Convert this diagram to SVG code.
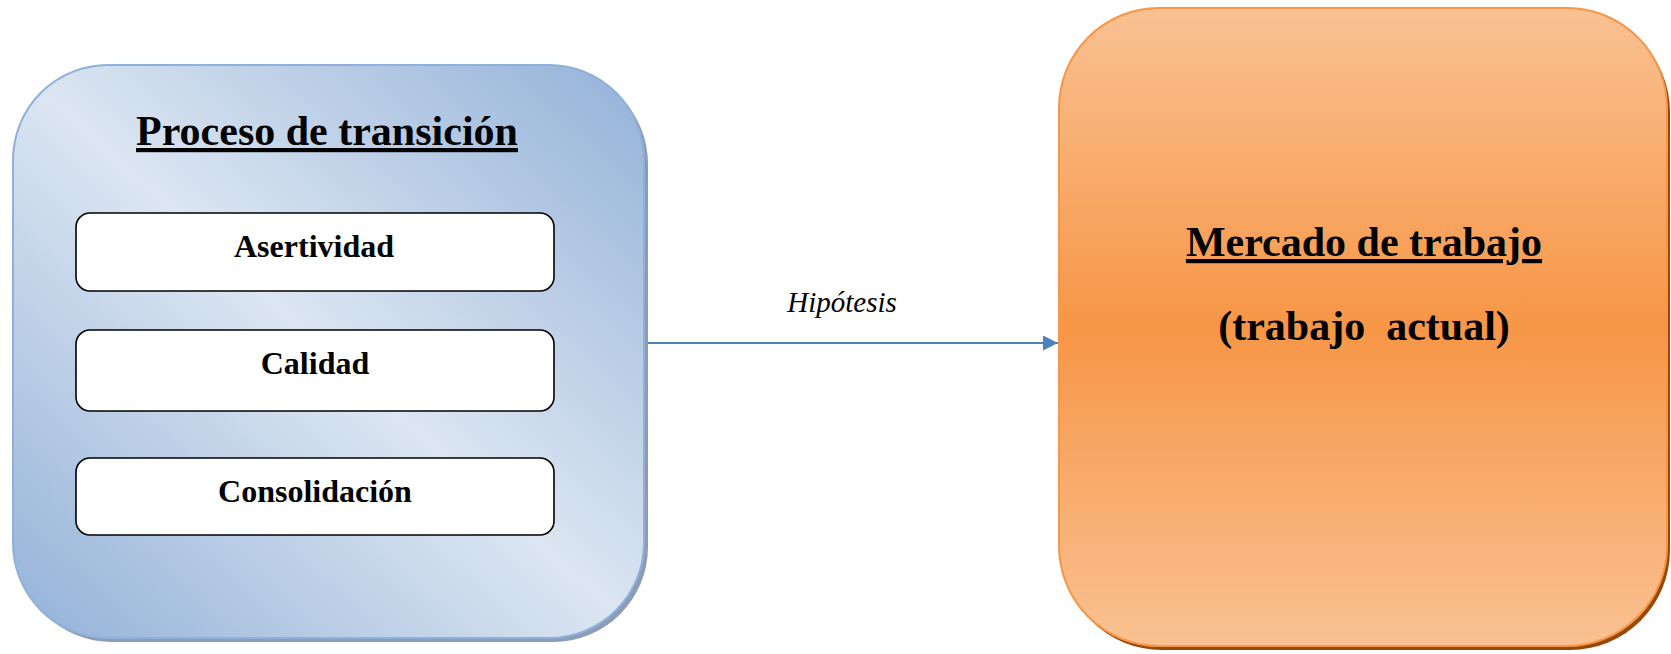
<svg xmlns="http://www.w3.org/2000/svg" width="1671" height="654" viewBox="0 0 1671 654">
  <defs>
    <!-- diagonal blue fill: darker at top-right and bottom-left corners -->
    <linearGradient id="blueFill" x1="1" y1="0" x2="0" y2="1">
      <stop offset="0" stop-color="#93b1d8"/>
      <stop offset="0.5" stop-color="#dce6f2"/>
      <stop offset="1" stop-color="#93b1d8"/>
    </linearGradient>
    <!-- vertical orange fill: saturated band in the middle -->
    <linearGradient id="orangeFill" x1="0" y1="0" x2="0" y2="1">
      <stop offset="0" stop-color="#f9c192"/>
      <stop offset="0.5" stop-color="#f79646"/>
      <stop offset="1" stop-color="#f9c192"/>
    </linearGradient>
    <marker id="arrowHead" viewBox="0 0 10 10" refX="10" refY="5" markerWidth="15" markerHeight="15" markerUnits="userSpaceOnUse" orient="auto">
      <path d="M0,0 L10,5 L0,10 Z" fill="#4f81bd"/>
    </marker>
  </defs>
  <style>
    .serif { font-family: "Liberation Serif", "Times New Roman", serif; fill: #000; }
    .heading { font-size: 42px; font-weight: bold; text-decoration: underline; }
    .sub { font-size: 42px; font-weight: bold; white-space: pre; }
    .item { font-size: 32px; font-weight: bold; }
    .label { font-size: 29px; font-style: italic; }
    .itemBox { fill: #ffffff; stroke: #000000; stroke-width: 1.6; }
    .conn { stroke: #4f81bd; stroke-width: 2; fill: none; }
  </style>

  <rect width="1671" height="654" fill="#ffffff"/>

  <!-- connectors -->
  <g id="connectors">
    <line class="conn" x1="645" y1="343" x2="1058" y2="343" marker-end="url(#arrowHead)"/>
    <text class="serif label" x="842" y="312" text-anchor="middle">Hipótesis</text>
  </g>

  <!-- left container: transition process -->
  <g id="proceso">
    <rect x="17" y="69" width="631" height="573" rx="95" fill="#8b9db6"/>
    <rect x="13" y="65" width="631" height="573" rx="95" fill="url(#blueFill)" stroke="#8fb0da" stroke-width="2"/>
    <text class="serif heading" x="327" y="145" text-anchor="middle">Proceso de transición</text>
  </g>

  <g id="asertividad">
    <rect class="itemBox" x="76" y="213" width="478" height="78" rx="14"/>
    <text class="serif item" x="314" y="257" text-anchor="middle">Asertividad</text>
  </g>

  <g id="calidad">
    <rect class="itemBox" x="76" y="330" width="478" height="81" rx="14"/>
    <text class="serif item" x="315" y="374" text-anchor="middle">Calidad</text>
  </g>

  <g id="consolidacion">
    <rect class="itemBox" x="76" y="458" width="478" height="77" rx="14"/>
    <text class="serif item" x="315" y="502" text-anchor="middle">Consolidación</text>
  </g>

  <!-- right container: labour market -->
  <g id="mercado">
    <rect x="1062" y="12" width="608" height="638" rx="100" fill="#984807"/>
    <rect x="1059" y="8" width="608" height="638" rx="100" fill="url(#orangeFill)" stroke="#f79646" stroke-width="2"/>
    <text class="serif heading" x="1364" y="256" text-anchor="middle">Mercado de trabajo</text>
    <text class="serif sub" x="1364" y="340" text-anchor="middle" xml:space="preserve">(trabajo  actual)</text>
  </g>
</svg>
